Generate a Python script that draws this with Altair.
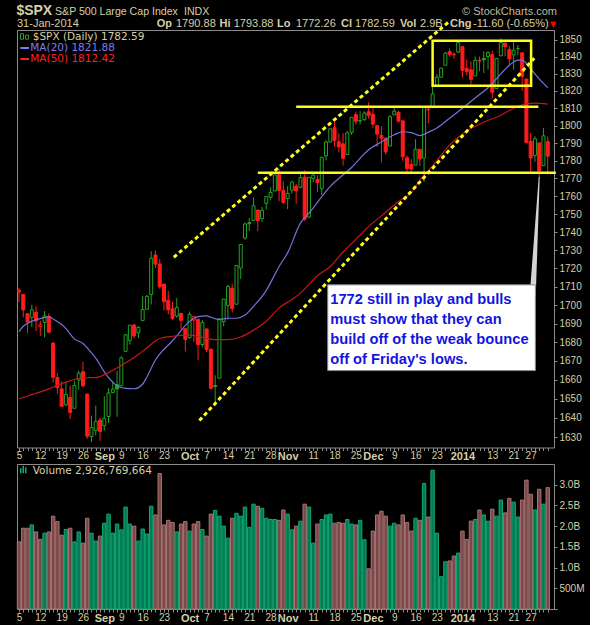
import altair as alt
import pandas as pd

# ---------------- data ----------------
OPEN = [1708.01, 1705.79, 1695.30, 1693.35, 1696.10, 1688.37, 1690.65, 1693.88, 1679.61, 1661.22,
        1655.25, 1646.81, 1650.66, 1645.03, 1659.92, 1664.29, 1652.54, 1630.25, 1633.50, 1638.89,
        1635.95, 1640.72, 1653.28, 1657.44, 1656.85, 1675.11, 1681.04, 1689.21, 1685.04, 1691.70,
        1697.73, 1705.74, 1727.34, 1722.44, 1711.44, 1702.60, 1698.02, 1694.05, 1695.52, 1687.26,
        1682.41, 1691.90, 1692.35, 1678.79, 1687.15, 1676.22, 1656.99, 1660.88, 1691.09, 1699.86,
        1709.17, 1700.49, 1720.17, 1736.72, 1745.20, 1746.48, 1752.27, 1747.48, 1756.01, 1759.42,
        1762.93, 1772.27, 1763.24, 1758.70, 1763.40, 1765.67, 1765.00, 1770.74, 1748.37, 1769.96,
        1769.51, 1764.37, 1782.75, 1790.66, 1798.82, 1790.79, 1789.59, 1783.52, 1796.19, 1806.33,
        1802.87, 1803.48, 1808.01, 1806.55, 1800.10, 1794.46, 1792.82, 1788.36, 1806.21, 1807.60,
        1802.76, 1781.71, 1777.98, 1777.48, 1786.47, 1781.46, 1809.00, 1810.39, 1822.92, 1828.02,
        1834.96, 1842.97, 1841.47, 1842.61, 1845.86, 1833.21, 1832.31, 1828.71, 1837.90, 1839.00,
        1840.06, 1841.26, 1821.36, 1840.52, 1847.99, 1844.23, 1841.05, 1844.71, 1842.29, 1826.96,
        1791.03, 1783.00, 1790.15, 1777.17, 1790.88]
HIGH = [1709.24, 1705.79, 1695.30, 1700.18, 1699.42, 1691.49, 1696.81, 1695.52, 1679.61, 1663.60,
        1659.18, 1658.92, 1656.99, 1659.55, 1664.85, 1669.51, 1652.54, 1641.18, 1646.41, 1640.08,
        1651.35, 1655.72, 1659.17, 1664.83, 1672.40, 1684.09, 1689.13, 1689.97, 1688.73, 1704.95,
        1705.52, 1729.44, 1729.86, 1725.23, 1711.44, 1707.63, 1701.71, 1703.85, 1695.52, 1687.26,
        1696.55, 1693.87, 1692.35, 1691.94, 1687.15, 1676.79, 1662.47, 1692.56, 1703.44, 1711.03,
        1711.57, 1721.76, 1733.45, 1745.31, 1747.79, 1759.33, 1752.27, 1753.94, 1759.82, 1764.99,
        1772.09, 1775.22, 1768.53, 1765.67, 1768.78, 1767.03, 1773.74, 1774.54, 1770.78, 1773.44,
        1771.78, 1782.00, 1791.53, 1798.22, 1802.33, 1795.51, 1795.73, 1797.16, 1804.84, 1808.10,
        1808.42, 1808.27, 1813.55, 1810.02, 1800.10, 1799.80, 1792.82, 1806.04, 1811.52, 1808.52,
        1802.97, 1782.99, 1780.92, 1792.22, 1786.77, 1811.08, 1810.88, 1823.75, 1829.75, 1833.32,
        1842.84, 1844.89, 1842.47, 1849.44, 1845.86, 1838.24, 1837.16, 1840.10, 1840.02, 1843.23,
        1843.15, 1843.45, 1839.26, 1850.84, 1847.99, 1846.04, 1849.31, 1846.87, 1842.29, 1826.96,
        1795.98, 1793.87, 1790.15, 1798.77, 1793.88]
LOW = [1701.63, 1693.29, 1684.91, 1688.38, 1686.02, 1683.35, 1682.62, 1684.83, 1658.59, 1652.61,
       1645.84, 1646.08, 1639.43, 1645.03, 1654.81, 1656.02, 1629.05, 1627.47, 1630.88, 1628.05,
       1633.41, 1637.41, 1653.07, 1640.62, 1656.85, 1675.11, 1678.70, 1681.96, 1682.22, 1691.70,
       1697.73, 1700.35, 1720.20, 1708.89, 1697.10, 1694.90, 1691.88, 1693.11, 1687.11, 1674.99,
       1682.07, 1680.34, 1670.36, 1677.33, 1674.70, 1655.03, 1646.47, 1660.88, 1688.52, 1692.13,
       1695.93, 1700.49, 1714.12, 1735.74, 1740.67, 1746.48, 1740.50, 1745.50, 1752.45, 1757.67,
       1762.93, 1757.24, 1755.72, 1752.70, 1761.56, 1755.76, 1764.40, 1746.20, 1747.63, 1767.85,
       1762.29, 1760.64, 1780.22, 1790.66, 1788.00, 1784.72, 1777.23, 1783.52, 1794.70, 1800.58,
       1800.77, 1802.77, 1803.98, 1798.60, 1787.85, 1779.09, 1783.38, 1788.36, 1806.21, 1801.75,
       1780.09, 1772.28, 1772.45, 1777.48, 1777.05, 1767.99, 1801.35, 1810.25, 1822.92, 1828.02,
       1834.96, 1839.81, 1838.77, 1842.41, 1827.74, 1829.13, 1823.73, 1828.71, 1831.40, 1830.38,
       1832.43, 1815.52, 1821.36, 1840.52, 1840.30, 1835.23, 1832.38, 1840.88, 1820.06, 1790.29,
       1772.88, 1779.49, 1770.45, 1777.17, 1772.26]
CLOSE = [1707.14, 1697.37, 1690.91, 1697.48, 1691.42, 1689.47, 1694.16, 1685.39, 1661.32, 1655.83,
         1646.06, 1652.35, 1642.80, 1656.96, 1663.50, 1656.78, 1630.48, 1634.96, 1638.17, 1632.97,
         1639.77, 1653.08, 1655.08, 1655.17, 1671.71, 1683.99, 1689.13, 1683.42, 1687.99, 1697.60,
         1704.76, 1725.52, 1722.34, 1709.91, 1701.84, 1697.42, 1692.77, 1698.67, 1691.75, 1681.55,
         1695.00, 1693.87, 1678.66, 1690.50, 1676.12, 1655.45, 1656.40, 1692.56, 1703.20, 1710.14,
         1698.06, 1721.54, 1733.15, 1744.50, 1744.66, 1754.67, 1746.38, 1752.07, 1759.77, 1762.11,
         1771.95, 1763.31, 1756.54, 1761.64, 1767.93, 1762.97, 1770.49, 1747.15, 1770.61, 1771.89,
         1767.69, 1782.00, 1790.62, 1798.18, 1791.53, 1787.87, 1781.37, 1795.85, 1804.76, 1802.48,
         1802.75, 1807.23, 1805.81, 1800.90, 1795.15, 1792.81, 1785.03, 1805.09, 1808.37, 1802.62,
         1782.22, 1775.50, 1775.32, 1786.54, 1781.00, 1810.65, 1809.60, 1818.32, 1827.99, 1833.32,
         1842.02, 1841.40, 1841.07, 1848.36, 1831.98, 1831.37, 1826.77, 1837.88, 1837.49, 1838.13,
         1842.37, 1819.20, 1838.88, 1848.38, 1845.89, 1838.70, 1843.80, 1844.86, 1828.46, 1790.29,
         1781.56, 1792.50, 1774.20, 1794.19, 1782.59]
PREV_CLOSE = 1709.67  # close of the session before the first bar

VOLUME_B = [1.62, 1.95, 1.95, 2.03, 1.86, 1.68, 1.83, 1.86, 2.24, 2.11,
            1.78, 1.92, 1.95, 1.62, 1.86, 1.59, 2.19, 1.83, 1.64, 1.76,
            2.07, 2.29, 1.83, 2.05, 1.91, 2.46, 2.05, 2.00, 1.64, 1.93,
            1.81, 2.48, 2.27, 3.27, 2.03, 2.14, 2.09, 1.86, 2.05, 2.11,
            1.88, 2.05, 2.11, 1.92, 1.76, 2.29, 2.38, 2.24, 2.00, 1.71,
            2.19, 2.31, 2.24, 2.46, 1.97, 2.53, 2.48, 2.43, 2.19, 2.16,
            2.16, 2.14, 2.39, 2.29, 1.91, 2.00, 2.12, 2.53, 2.46, 1.59,
            2.05, 2.16, 2.27, 2.29, 2.07, 2.09, 2.07, 2.16, 2.05, 2.03,
            2.14, 1.67, 0.97, 1.88, 2.27, 2.36, 2.24, 2.00, 2.07, 2.03,
            2.27, 2.09, 1.88, 2.19, 2.14, 3.03, 2.22, 3.35, 1.83, 0.78,
            1.14, 1.16, 1.28, 1.35, 1.88, 1.68, 2.12, 2.16, 2.39, 2.27,
            2.12, 2.41, 2.24, 2.63, 2.32, 2.67, 2.58, 2.22, 2.63, 3.11,
            2.77, 2.39, 2.89, 2.53, 2.93]

MA20_AT = [0, 1, 3, 5, 7, 8, 10, 11, 13, 15, 17, 18, 20, 21, 23, 25, 27, 29, 30, 32, 33, 36, 37,
           40, 42, 44, 45, 47, 49, 51, 53, 55, 58, 60, 61, 63, 66, 68, 73, 78, 82, 85, 88, 90,
           92, 94, 96, 98, 101, 104, 108, 110, 112, 115, 117, 118, 120, 122, 124]
MA20 = [1685.7, 1688.6, 1691.3, 1692.7, 1693.6, 1692.5, 1689.5, 1687.3, 1681.8, 1679.3, 1674.3,
        1671.5, 1664.2, 1661.2, 1656.9, 1655.5, 1655.3, 1657.8, 1661.5, 1670.5, 1673.7, 1680.8,
        1683.5, 1691.2, 1693.8, 1694.2, 1693.4, 1692.2, 1692.9, 1692.9, 1694.6, 1699.3, 1708.0,
        1716.6, 1721.0, 1728.5, 1745.0, 1750.5, 1765.5, 1776.2, 1786.2, 1790.7, 1794.8, 1796.5,
        1796.0, 1794.3, 1796.3, 1798.7, 1804.3, 1810.0, 1818.0, 1821.9, 1827.2, 1835.0, 1838.0,
        1838.0, 1832.8, 1827.0, 1821.9]
MA50_AT = [0, 2, 4, 7, 9, 11, 14, 16, 18, 21, 23, 25, 28, 30, 33, 36, 40, 43, 46, 49, 52, 55, 58,
           61, 64, 66, 70, 73, 76, 79, 82, 86, 89, 92, 94, 97, 101, 105, 109, 113, 116, 119,
           121, 124]
MA50 = [1650.0, 1651.5, 1652.9, 1655.2, 1657.1, 1658.8, 1660.7, 1661.1, 1661.2, 1663.8, 1666.3,
        1669.0, 1673.5, 1677.0, 1682.0, 1683.2, 1683.8, 1682.6, 1681.4, 1681.4, 1682.8, 1686.5,
        1691.3, 1698.5, 1703.0, 1706.5, 1716.0, 1721.0, 1729.0, 1736.0, 1743.0, 1751.0, 1757.0,
        1762.0, 1769.0, 1777.0, 1789.0, 1797.0, 1802.0, 1806.0, 1810.0, 1812.6, 1813.0, 1812.4]

TICK_IDX = [0, 5, 10, 15, 20, 24, 29, 34, 40, 44, 49, 54, 59, 63, 69, 74, 79, 83, 88, 93, 98,
            104, 111, 116, 120]
TICK_LABELS = ["5", "12", "19", "26", "Sep", "9", "16", "23", "Oct", "7", "14", "21", "28",
               "Nov", "11", "18", "25", "Dec", "9", "16", "23", "2014", "13", "21", "27"]
MONTH_IDX = [20, 40, 63, 83, 104]

# annotations (day index, price)
UPPER_CH_X = [36.3, 101.1]
UPPER_CH_P = [1726.1, 1861.2]
LOWER_CH_X = [42.3, 120.85]
LOWER_CH_P = [1638.6, 1839.1]
RES_LINE = (65.0, 121.8, 1810.9)
SUP_LINE = (56.0, 125.9, 1773.2)
BOX_RANGE = (97.0, 120.1, 1849.4, 1823.1)
NOTE_BOX = (72.4, 121.1, 1711.0, 1664.9)
NOTE_LINES = ["1772 still in play and bulls", "must show that they can",
              "build off of the weak bounce", "off of Friday's lows."]
NOTE_X = 73.0
NOTE_P = [1702.8, 1692.0, 1681.4, 1670.6]
POINTER_X = [120.5, 122.0]
POINTER_P = [1706.0, 1770.6]
POINTER_W = [6, 1]

# ---------------- styles ----------------
BG = "#000000"
FRAME = "#8C8C8C"
TXT = "#D6CFA8"
GREEN = "#22A322"
RED = "#FF1C1C"
VGREEN_F, VGREEN_S = "#007A52", "#14A872"
VRED_F, VRED_S = "#7A4848", "#A87474"
YEL = "#FFFF1E"
MA20_C = "#7373DC"
MA50_C = "#C81616"
NOTE_BLUE = "#1414E0"
FONT = "Liberation Sans"
LFONT = "DejaVu Sans"

PW, PH, VH = 537, 417.5, 145
PX0, PY0, VY0 = 16, 29.3, 462.7

N = len(CLOSE)
IDX = list(range(N))
df = pd.DataFrame({"idx": IDX, "open": OPEN, "high": HIGH, "low": LOW, "close": CLOSE,
                   "vol": [v * 1e9 for v in VOLUME_B]})
df["prev"] = [PREV_CLOSE] + CLOSE[:-1]
df["dir"] = ["up" if c >= p else "down" for c, p in zip(df["close"], df["prev"])]
df["fk"] = [d if c < o else "hollow" for d, c, o in zip(df["dir"], df["close"], df["open"])]
df["vdir"] = ["v" + d for d in df["dir"]]

XS = alt.Scale(domain=[-0.47, 125.47], nice=False, zero=False)
YS = alt.Scale(type="log", domain=[1624.6, 1855.7], nice=False)
VS = alt.Scale(domain=[0, 3.5e9], nice=False, zero=True)

arr_t = "[" + ",".join(str(i) for i in TICK_IDX) + "]"
arr_l = "[" + ",".join("'" + s + "'" for s in TICK_LABELS) + "]"
x_lab = f"indexof({arr_t}, datum.value) >= 0 ? {arr_l}[indexof({arr_t}, datum.value)] : ''"
m_test = "indexof([" + ",".join(str(i) for i in MONTH_IDX) + "], datum.value) >= 0"

XAX = alt.Axis(values=IDX, labelExpr=x_lab, tickSize=3, tickColor=FRAME, tickWidth=1,
               domain=False, grid=False, labelColor=TXT, labelFont=FONT,
               labelFontSize={"condition": {"test": m_test, "value": 11}, "value": 10},
               labelFontWeight={"condition": {"test": m_test, "value": "bold"}, "value": "normal"},
               labelPadding=0, labelOverlap=False, labelFlush=False, labelBound=False, title=None)
YAX = alt.Axis(orient="right", values=list(range(1630, 1851, 10)), format="d", tickSize=3,
               tickColor=FRAME, domain=False, grid=False, labelColor=TXT, labelFont=FONT,
               labelFontSize=10, labelPadding=2, labelOverlap=False, labelFlush=False, title=None)
VAX = alt.Axis(orient="right", values=[0, 5e8, 1e9, 1.5e9, 2e9, 2.5e9, 3e9],
               labelExpr="datum.value == 0 ? '' : (datum.value < 1000000000 ? '500M' : format(datum.value / 1000000000, '.1f') + 'B')",
               tickSize=3, tickColor=FRAME, domain=False, grid=False, labelColor=TXT,
               labelFont=FONT, labelFontSize=10, labelPadding=2, labelOverlap=False,
               labelFlush=False, title=None)


def PX(f):
    return alt.X(f"{f}:Q", scale=XS, axis=XAX)


def PY(f):
    return alt.Y(f"{f}:Q", scale=YS, axis=YAX)


def VYe(f):
    return alt.Y(f"{f}:Q", scale=VS, axis=VAX)


ONE = pd.DataFrame({"a": [0]})


def txt(text, x, y, y0, size=11, weight="normal", color=TXT, font=FONT, align="left"):
    return alt.Chart(pd.DataFrame({"t": [text]})).mark_text(
        align=align, baseline="middle", font=font, fontSize=size, fontWeight=weight, color=color
    ).encode(x=alt.value(x - PX0), y=alt.value(y - y0), text="t:N")


def prect(x1, x2, y1, y2, y0, fill, stroke=None):
    kw = {"fill": fill}
    if stroke:
        kw["stroke"] = stroke
        kw["strokeWidth"] = 1
    return alt.Chart(ONE).mark_rect(**kw).encode(
        x=alt.value(x1 - PX0), x2=alt.value(x2 - PX0), y=alt.value(y1 - y0), y2=alt.value(y2 - y0))


def prule(x1, x2, y, y0, color, w=2):
    return alt.Chart(ONE).mark_rule(color=color, strokeWidth=w).encode(
        x=alt.value(x1 - PX0), x2=alt.value(x2 - PX0), y=alt.value(y - y0))


dir_scale = alt.Scale(domain=["up", "down"], range=[GREEN, RED])
base = alt.Chart(df)

wicks = base.mark_rule(strokeWidth=1).encode(
    x=PX("idx"), y=PY("low"), y2="high", color=alt.Color("dir:N", scale=dir_scale, legend=None))
bodies = base.transform_calculate(x0="datum.idx - 0.35", x1="datum.idx + 0.35").mark_rect(
    strokeWidth=1).encode(
    x=PX("x0"), x2="x1", y=PY("open"), y2="close",
    fill=alt.Fill("fk:N", scale=alt.Scale(domain=["up", "down", "hollow"], range=[GREEN, RED, BG]),
                  legend=None),
    stroke=alt.Stroke("dir:N", scale=dir_scale, legend=None))

ma20 = alt.Chart(pd.DataFrame({"idx": MA20_AT, "v": MA20})).mark_line(
    color=MA20_C, strokeWidth=1.2, interpolate="monotone").encode(x=PX("idx"), y=PY("v"))
ma50 = alt.Chart(pd.DataFrame({"idx": MA50_AT, "v": MA50})).mark_line(
    color=MA50_C, strokeWidth=1.2, interpolate="monotone").encode(x=PX("idx"), y=PY("v"))

up_ch = alt.Chart(pd.DataFrame({"idx": UPPER_CH_X, "p": UPPER_CH_P})).mark_line(
    color=YEL, strokeWidth=3, strokeDash=[4, 3]).encode(x=PX("idx"), y=PY("p"))
lo_ch = alt.Chart(pd.DataFrame({"idx": LOWER_CH_X, "p": LOWER_CH_P})).mark_line(
    color=YEL, strokeWidth=3, strokeDash=[4, 3]).encode(x=PX("idx"), y=PY("p"))


def hline(spec):
    a, b, p = spec
    return alt.Chart(pd.DataFrame({"a": [a], "b": [b], "p": [p]})).mark_rule(
        color=YEL, strokeWidth=2.5).encode(x=PX("a"), x2="b", y=PY("p"))


res = hline(RES_LINE)
sup = hline(SUP_LINE)
bx = alt.Chart(pd.DataFrame({"a": [BOX_RANGE[0]], "b": [BOX_RANGE[1]], "p": [BOX_RANGE[2]],
                             "q": [BOX_RANGE[3]]})).mark_rect(
    fillOpacity=0, stroke=YEL, strokeWidth=2.5).encode(x=PX("a"), x2="b", y=PY("p"), y2="q")

pointer = alt.Chart(pd.DataFrame({"idx": POINTER_X, "p": POINTER_P, "w": POINTER_W})).mark_trail(
    color="#D4D4D4").encode(x=PX("idx"), y=PY("p"), size=alt.Size("w:Q", scale=None, legend=None))
note_box = alt.Chart(pd.DataFrame({"a": [NOTE_BOX[0]], "b": [NOTE_BOX[1]], "p": [NOTE_BOX[2]],
                                   "q": [NOTE_BOX[3]]})).mark_rect(
    fill="#FFFFFF", stroke="#8A8A8A", strokeWidth=1).encode(x=PX("a"), x2="b", y=PY("p"), y2="q")
note_txt = alt.Chart(pd.DataFrame({"idx": [NOTE_X] * len(NOTE_LINES), "p": NOTE_P,
                                   "t": NOTE_LINES})).mark_text(
    align="left", baseline="middle", font=FONT, fontSize=14.7, fontWeight="bold",
    color=NOTE_BLUE).encode(x=PX("idx"), y=PY("p"), text="t:N")

# header
hdr = [
    txt("$SPX", 15.4, 10.5, PY0, size=14, weight="bold"),
    txt("S&P 500 Large Cap Index", 54, 11, PY0, size=10.6),
    txt("INDX", 183, 11, PY0, size=10.6),
    txt("\u00a9 StockCharts.com", 556, 11, PY0, size=11, color="#BDB8A8", align="right"),
    txt("31-Jan-2014", 16, 23.3, PY0, size=11),
    txt("Op", 155.8, 23.3, PY0, size=11, weight="bold"),
    txt("1790.88", 175, 23.3, PY0, size=11),
    txt("Hi", 218.5, 23.3, PY0, size=11, weight="bold"),
    txt("1793.88", 232.7, 23.3, PY0, size=11),
    txt("Lo", 276, 23.3, PY0, size=11, weight="bold"),
    txt("1772.26", 295, 23.3, PY0, size=11),
    txt("Cl", 340, 23.3, PY0, size=11, weight="bold"),
    txt("1782.59", 354, 23.3, PY0, size=11),
    txt("Vol", 399, 23.3, PY0, size=11, weight="bold"),
    txt("2.9B", 419, 23.3, PY0, size=11),
    txt("Chg", 449, 23.3, PY0, size=11, weight="bold"),
    txt("-11.60 (-0.65%)", 472, 23.3, PY0, size=11),
    txt("\u25bc", 549, 23.8, PY0, size=8, color="#FF0000", font=LFONT),
]
legend = [
    prect(19.5, 22.5, 33, 38.5, PY0, BG, GREEN),
    prect(24.5, 27.5, 34.5, 38.5, PY0, BG, GREEN),
    txt("$SPX (Daily) 1782.59", 31.7, 36, PY0, size=10.5, font=LFONT),
    prule(19.3, 28, 47.3, PY0, "#7B7BF0"),
    txt("MA(20) 1821.88", 29.3, 47.3, PY0, size=10.5, font=LFONT, color="#7B7BF0"),
    prule(19.3, 28, 58.3, PY0, "#FF2020"),
    txt("MA(50) 1812.42", 29.3, 58.3, PY0, size=10.5, font=LFONT, color="#FF2020"),
]

top = alt.layer(wicks, bodies, ma20, ma50, up_ch, lo_ch, res, sup, bx, pointer, note_box,
                note_txt, *hdr, *legend).properties(width=PW, height=PH)

# volume panel
vbars = base.transform_calculate(x0="datum.idx - 0.4", x1="datum.idx + 0.4", z="0").mark_rect(
    strokeWidth=1).encode(
    x=PX("x0"), x2="x1", y=VYe("z"), y2="vol",
    fill=alt.Fill("vdir:N", scale=alt.Scale(domain=["vup", "vdown"], range=[VGREEN_F, VRED_F]),
                  legend=None),
    stroke=alt.Stroke("vdir:N", scale=alt.Scale(domain=["vup", "vdown"], range=[VGREEN_S, VRED_S]),
                      legend=None))
vleg = [
    prect(19, 20.5, 467, 472, VY0, VGREEN_S),
    prect(21.5, 23, 464.5, 472, VY0, VGREEN_S),
    prect(24, 25.5, 466, 472, VY0, VGREEN_S),
    txt("Volume 2,926,769,664", 31.7, 469.3, VY0, size=10.5, font=LFONT),
]
bottom = alt.layer(vbars, *vleg).properties(width=PW, height=VH)

chart = alt.vconcat(top, bottom, spacing=1).resolve_scale(
    fill="independent", stroke="independent", color="independent", size="independent"
).properties(
    background=BG, padding={"left": 15, "top": 3, "right": 5, "bottom": 5}
).configure_view(stroke=FRAME, strokeWidth=1)

chart.save("out.html", embed_options={"renderer": "svg", "actions": False})
